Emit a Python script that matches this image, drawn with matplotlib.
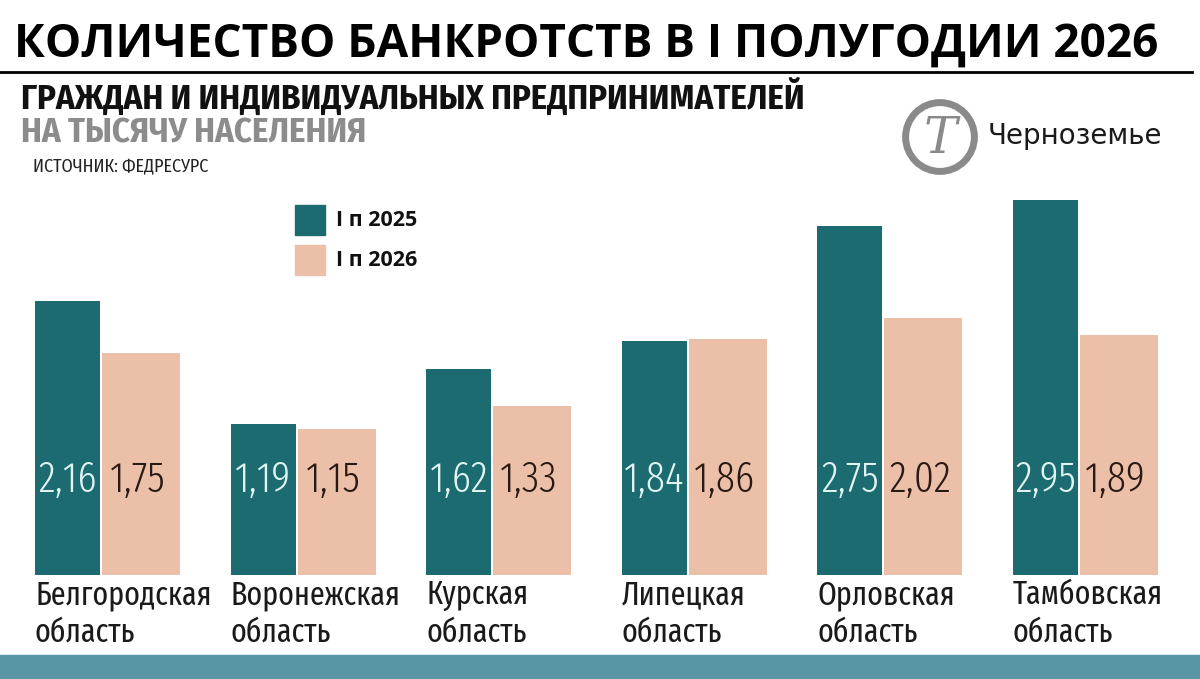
import matplotlib
matplotlib.use("Agg")
import matplotlib.pyplot as plt
from matplotlib.patches import Circle, Rectangle

regions = ["Белгородская\nобласть", "Воронежская\nобласть", "Курская\nобласть",
           "Липецкая\nобласть", "Орловская\nобласть", "Тамбовская\nобласть"]
h1_2025 = [2.16, 1.19, 1.62, 1.84, 2.75, 2.95]
h1_2026 = [1.75, 1.15, 1.33, 1.86, 2.02, 1.89]
series_names = ["I п 2025", "I п 2026"]

TEAL = "#1b6b70"
PEACH = "#ecc0a8"
BAND = "#5a95a5"

COND = ["Fira Sans Condensed", "DejaVu Sans"]
XCOND = ["Fira Sans Extra Condensed", "DejaVu Sans"]
TITLE_FONT = ["Open Sans", "DejaVu Sans"]

W, H = 1200, 679
fig = plt.figure(figsize=(W / 100, H / 100), dpi=100)
fig.patch.set_facecolor("white")


def fx(px):
    return px / W


def fy(py):
    return 1 - py / H


# header
fig.text(fx(14), fy(44), "КОЛИЧЕСТВО БАНКРОТСТВ В I ПОЛУГОДИИ 2026", fontsize=33,
         fontweight="bold", family=TITLE_FONT, va="center", ha="left", color="black")
fig.add_artist(plt.Line2D([0, fx(1192)], [fy(72), fy(72)], color="black", lw=2))
fig.text(fx(21), fy(97), "ГРАЖДАН И ИНДИВИДУАЛЬНЫХ ПРЕДПРИНИМАТЕЛЕЙ", fontsize=25,
         fontweight="bold", family=COND, va="center", ha="left", color="#111111")
fig.text(fx(21), fy(133), "НА ТЫСЯЧУ НАСЕЛЕНИЯ", fontsize=25,
         fontweight="bold", family=COND, va="center", ha="left", color="#8c8c8c")
fig.text(fx(33), fy(166), "ИСТОЧНИК: ФЕДРЕСУРС", fontsize=13,
         family=COND, va="center", ha="left", color="#222222")

# logo
logo = fig.add_axes([fx(900), fy(177), fx(80), 80 / H])
logo.set_xlim(0, 1)
logo.set_ylim(0, 1)
logo.set_aspect("equal")
logo.axis("off")
logo.add_patch(Circle((0.5, 0.5), 0.43, fill=False, ec="#8a8a8a", lw=5))
logo.text(0.5, 0.47, "Т", fontsize=36, family="DejaVu Serif", style="italic",
          color="#8a8a8a", ha="center", va="center")
fig.text(fx(988), fy(136), "Черноземье", fontsize=20, family="DejaVu Sans",
         va="center", ha="left", color="#1a1a1a")

# bars
group_px = 195.6
left_px = 35
base_px = 575
unit_px = 127
top_px = 180
ax = fig.add_axes([0, fy(base_px), 1, (base_px - top_px) / H])
ax.set_xlim(-left_px / group_px, (W - left_px) / group_px)
ax.set_ylim(0, (base_px - top_px) / unit_px)
ax.axis("off")

w1, off2, w2 = 0.332, 0.3425, 0.399
x = list(range(len(regions)))
ax.bar(x, h1_2025, width=w1, align="edge", color=TEAL)
ax.bar([i + off2 for i in x], h1_2026, width=w2, align="edge", color=PEACH)

label_y = (base_px - 480) / unit_px
for i in x:
    ax.text(i + w1 / 2, label_y, f"{h1_2025[i]:.2f}".replace(".", ","), fontsize=31,
            family=XCOND, fontweight=300, color="#dff3f3", ha="center", va="center")
    ax.text(i + off2 + w2 / 2 - 0.018, label_y, f"{h1_2026[i]:.2f}".replace(".", ","),
            fontsize=31, family=XCOND, fontweight=300, color="#2a1a14",
            ha="center", va="center")
    ax.text(i, -(579 - base_px) / unit_px, regions[i], fontsize=23.5, family=XCOND,
            color="#1a1a1a", ha="left", va="top", linespacing=1.2, clip_on=False)

# legend
for k, (name, col) in enumerate(zip(series_names, [TEAL, PEACH])):
    y0 = 205 + k * 40
    fig.add_artist(Rectangle((fx(295), fy(y0 + 30)), fx(30), 30 / H, color=col))
    fig.text(fx(336), fy(y0 + 16), name, fontsize=15.5, fontweight="bold",
             family=TITLE_FONT, va="center", ha="left", color="#111111")

# bottom band
fig.add_artist(Rectangle((0, 0), 1, fy(655), color=BAND))

fig.savefig("out.png", dpi=100)
